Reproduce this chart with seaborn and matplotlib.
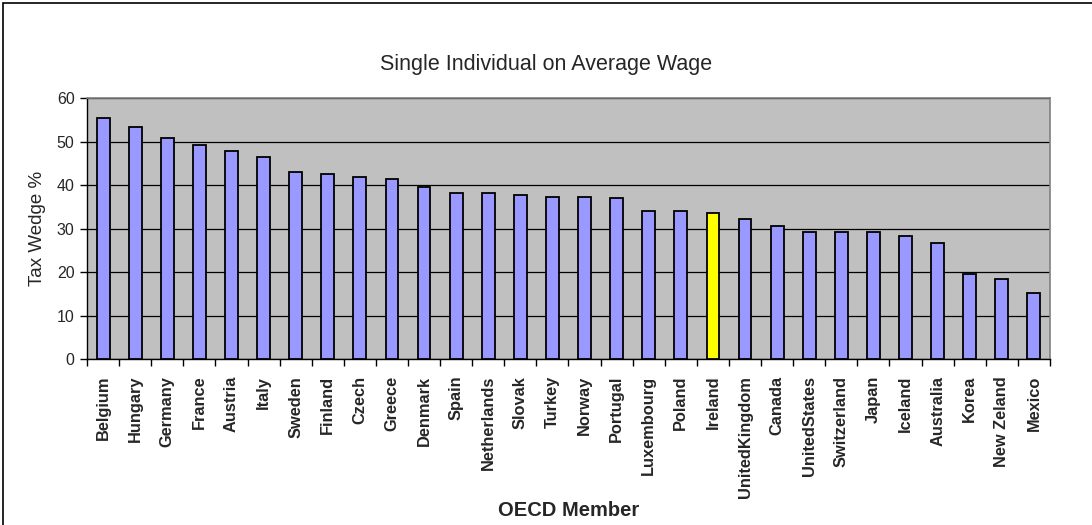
import seaborn as sns
import matplotlib.pyplot as plt
import matplotlib.patches as mpatches
import pandas as pd
import numpy as np

countries = ['Belgium', 'Hungary', 'Germany', 'France', 'Austria', 'Italy', 'Sweden',
             'Finland', 'Czech', 'Greece', 'Denmark', 'Spain', 'Netherlands', 'Slovak',
             'Turkey', 'Norway', 'Portugal', 'Luxembourg', 'Poland', 'Ireland',
             'UnitedKingdom', 'Canada', 'UnitedStates', 'Switzerland', 'Japan',
             'Iceland', 'Australia', 'Korea', 'New Zeland', 'Mexico']
taxWedge = [55.3, 53.3, 50.9, 49.2, 47.9, 46.5, 43.1, 42.5, 41.8, 41.5, 39.5, 38.1,
            38.1, 37.7, 37.3, 37.3, 37.0, 34.0, 34.0, 33.6, 32.3, 30.7, 29.3, 29.3,
            29.3, 28.3, 26.6, 19.5, 18.5, 15.1]
highlight = 'Ireland'

df = pd.DataFrame({'country': countries, 'wedge': taxWedge})
df['group'] = np.where(df['country'] == highlight, 'hi', 'other')

sns.set_style('white')
plt.rcParams['font.family'] = ['Liberation Sans', 'DejaVu Sans']

fig = plt.figure(figsize=(10.92, 5.25), dpi=100)
ax = fig.add_axes([0.0797, 0.316, 0.8818, 0.4973])
ax.set_facecolor('#C0C0C0')

sns.barplot(data=df, x='country', y='wedge', hue='group',
            palette={'other': '#9999FF', 'hi': '#FFFF00'}, dodge=False, saturation=1,
            legend=False, width=0.4, edgecolor='black', linewidth=1.3, ax=ax, zorder=3)

ax.set_ylim(0, 60)
ax.set_xlim(-0.5, len(countries) - 0.5)
ax.set_yticks(range(0, 61, 10))
ax.yaxis.grid(True, color='black', linewidth=0.9, zorder=0)
ax.set_axisbelow(True)

# excel style ticks between categories
ax.set_xticks(range(len(countries)))
ax.set_xticks(np.arange(-0.5, len(countries), 1), minor=True)
ax.tick_params(axis='x', which='major', length=0, pad=12)
ax.tick_params(axis='x', which='minor', length=5, width=1, color='black', direction='out', bottom=True)
ax.tick_params(axis='y', length=5, width=1, color='black', direction='out', left=True, labelsize=11.5, pad=4)
ax.set_xticklabels(countries, rotation=90, fontsize=11.8, fontweight='bold')

for side in ['top', 'right']:
    ax.spines[side].set_color('#808080')
    ax.spines[side].set_linewidth(1.2)
for side in ['left', 'bottom']:
    ax.spines[side].set_color('black')
    ax.spines[side].set_linewidth(1)

ax.set_xlabel('')
ax.set_ylabel('')
fig.text(0.034, 0.565, 'Tax Wedge %', rotation=90, fontsize=13.5, ha='center', va='center')
fig.text(0.521, 0.027, 'OECD Member', fontsize=14.5, fontweight='bold', ha='center', va='center')
fig.text(0.5, 0.877, 'Single Individual on Average Wage', fontsize=15.5, ha='center', va='center')

# outer chart frame
fig.patches.append(mpatches.Rectangle((0.003, -0.05), 1.05, 1.044, transform=fig.transFigure,
                                      fill=False, edgecolor='black', linewidth=1.2))

fig.savefig('out.png', dpi=100)
